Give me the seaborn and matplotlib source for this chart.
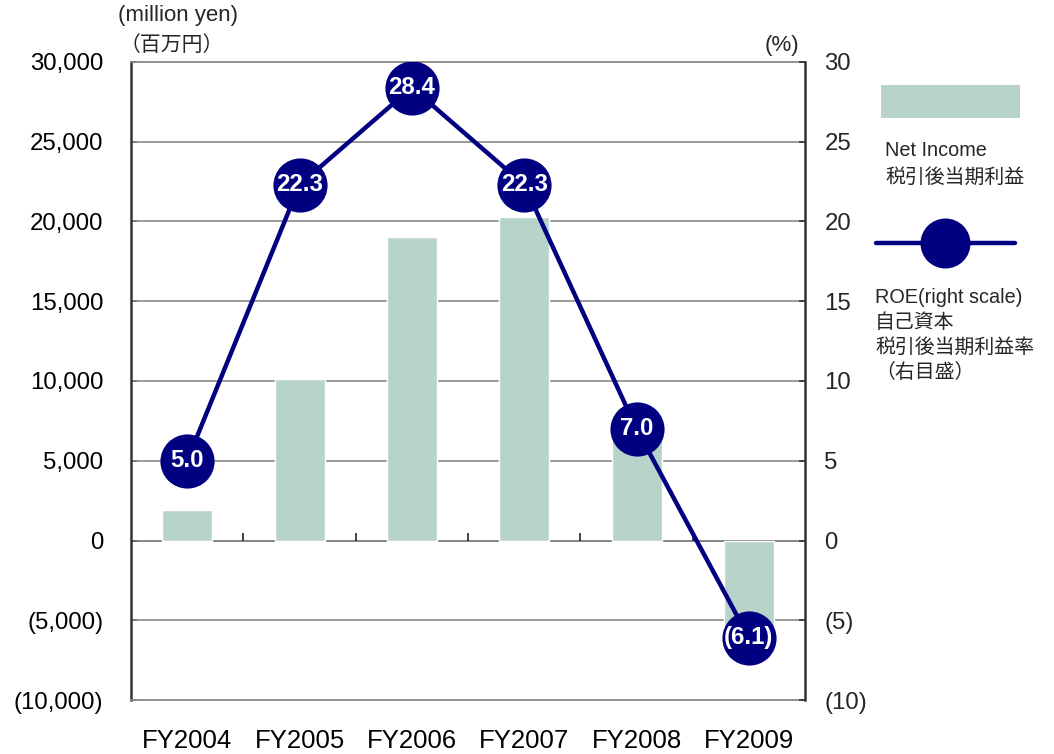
import numpy as np
import pandas as pd
import matplotlib
matplotlib.use("Agg")
import matplotlib.pyplot as plt
import seaborn as sns
from matplotlib.lines import Line2D
from matplotlib.patches import Rectangle

# --- data ---
years = ["FY2004", "FY2005", "FY2006", "FY2007", "FY2008", "FY2009"]
net_income = [1900, 10100, 19050, 20300, 6700, -5600]   # million yen
roe = [5.0, 22.3, 28.4, 22.3, 7.0, -6.1]                 # %
left_ticks = [-10000, -5000, 0, 5000, 10000, 15000, 20000, 25000, 30000]
right_ticks = [-10, -5, 0, 5, 10, 15, 20, 25, 30]

BAR_COLOR = "#b8d3ca"
NAVY = "#000080"
GRID = "#8a8a8a"


def fmt_paren(v, comma=True):
    s = f"{abs(v):,.0f}" if comma else f"{abs(v):g}"
    return f"({s})" if v < 0 else s


def fmt_roe(v):
    return f"({abs(v):.1f})" if v < 0 else f"{v:.1f}"


sns.set_theme(style="white")
plt.rcParams["font.family"] = ["Liberation Sans", "Noto Sans CJK JP", "DejaVu Sans"]

df = pd.DataFrame({"year": years, "net_income": net_income, "roe": roe})

fig = plt.figure(figsize=(10.54, 7.54), dpi=100)
ax = fig.add_axes([0.1243, 0.0716, 0.6395, 0.8462])

sns.barplot(data=df, x="year", y="net_income", color=BAR_COLOR, width=0.445,
            saturation=1, ax=ax, zorder=2)
ax.set_xlim(-0.5, len(years) - 0.5)
ax.set_ylim(left_ticks[0], left_ticks[-1])
ax.set_yticks(left_ticks)
ax.set_yticklabels([fmt_paren(v) for v in left_ticks])
ax.set_xlabel("")
ax.set_ylabel("")
for t in left_ticks[1:-1]:
    ax.axhline(t, color=GRID if t != 0 else "#707070", lw=1.2, zorder=1)
# category separator ticks on the zero line
ax.vlines(np.arange(0.5, len(years) - 0.5), 0, 500, color="#333333", lw=1.3, zorder=3)

ax.tick_params(axis="y", direction="in", length=4, width=1.2, color="#333333",
               labelsize=17.3, pad=20)
ax.tick_params(axis="x", length=0, labelsize=18.5, pad=21)
for lbl in ax.get_xticklabels() + ax.get_yticklabels():
    lbl.set_color("black")

for side in ["top", "bottom"]:
    ax.spines[side].set_color(GRID)
    ax.spines[side].set_linewidth(1.3)
ax.spines["left"].set_color("#333333")
ax.spines["left"].set_linewidth(1.8)
ax.spines["right"].set_visible(False)

ax2 = ax.twinx()
ax2.set_ylim(right_ticks[0], right_ticks[-1])
sns.lineplot(x=np.arange(len(years)), y=df["roe"].values, ax=ax2, color=NAVY,
             lw=3.2, marker="o", markersize=39, markeredgewidth=0, zorder=4)
for i, v in enumerate(roe):
    ax2.text(i, v, fmt_roe(v), ha="center", va="center",
             color="white", fontsize=17.3, fontweight="bold", zorder=5)
ax2.set_yticks(right_ticks)
ax2.set_yticklabels([fmt_paren(v, comma=False) for v in right_ticks])
ax2.tick_params(axis="y", direction="in", length=4, width=1.2, color="#333333",
                labelsize=17.3, pad=14)
ax2.set_ylabel("")
for side in ["top", "bottom", "left"]:
    ax2.spines[side].set_visible(False)
ax2.spines["right"].set_color("#333333")
ax2.spines["right"].set_linewidth(1.8)

# unit labels
fig.text(178 / 1054, 1 - 16 / 754, "(million yen)", ha="center", va="center", fontsize=16)
fig.text(172 / 1054, 1 - 45 / 754, "（百万円）", ha="center", va="center", fontsize=15)
fig.text(782 / 1054, 1 - 45 / 754, "(%)", ha="center", va="center", fontsize=16)

# legend drawn at the right side
W, H = 1054, 754
fig.add_artist(Rectangle((881 / W, 1 - 118 / H), 139 / W, 33 / H,
                         transform=fig.transFigure, color=BAR_COLOR, lw=0))
fig.text(885 / W, 1 - 150 / H, "Net Income", fontsize=14.3, va="center")
fig.text(885 / W, 1 - 177 / H, "税引後当期利益", fontsize=14.3, va="center")
fig.add_artist(Line2D([876 / W, 1015 / W], [1 - 243 / H, 1 - 243 / H],
                      transform=fig.transFigure, color=NAVY, lw=3.2))
fig.add_artist(Line2D([945 / W], [1 - 243 / H], transform=fig.transFigure,
                      color=NAVY, marker="o", markersize=36, markeredgewidth=0))
leg_lines = ["ROE(right scale)", "自己資本", "税引後当期利益率", "（右目盛）"]
for k, s in enumerate(leg_lines):
    fig.text(875 / W, 1 - (297 + 25 * k) / H, s, fontsize=14.3, va="center")

fig.savefig("out.png", dpi=100)
